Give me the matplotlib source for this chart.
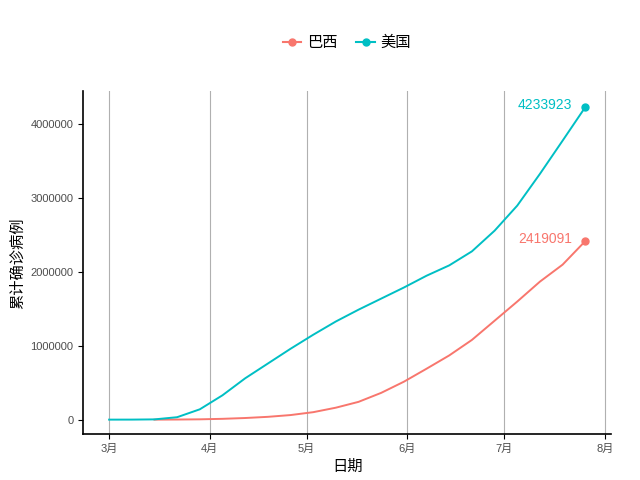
import matplotlib
matplotlib.use("Agg")
import matplotlib.pyplot as plt
import pandas as pd

plt.rcParams['font.family'] = ['Liberation Sans', 'Noto Sans CJK SC', 'DejaVu Sans']

us_dates = ["2020-03-01","2020-03-08","2020-03-15","2020-03-22","2020-03-29","2020-04-05","2020-04-12",
            "2020-04-19","2020-04-26","2020-05-03","2020-05-10","2020-05-17","2020-05-24","2020-05-31",
            "2020-06-07","2020-06-14","2020-06-21","2020-06-28","2020-07-05","2020-07-12","2020-07-19","2020-07-26"]
us_vals = [30, 500, 3500, 33000, 140000, 330000, 560000, 760000, 960000, 1150000, 1330000, 1490000,
           1640000, 1790000, 1950000, 2090000, 2280000, 2560000, 2900000, 3330000, 3780000, 4233923]
br_dates = ["2020-03-15","2020-03-22","2020-03-29","2020-04-05","2020-04-12","2020-04-19","2020-04-26",
            "2020-05-03","2020-05-10","2020-05-17","2020-05-24","2020-05-31","2020-06-07","2020-06-14",
            "2020-06-21","2020-06-28","2020-07-05","2020-07-12","2020-07-19","2020-07-26"]
br_vals = [200, 1500, 4300, 11000, 22000, 38000, 62000, 101000, 162000, 241000, 363000, 514000,
           690000, 870000, 1080000, 1340000, 1600000, 1870000, 2100000, 2419091]

c_br, c_us = "#F8766D", "#00BFC4"
fig, ax = plt.subplots(figsize=(6.4, 4.8), dpi=100)
fig.subplots_adjust(left=0.13, right=0.955, top=0.81, bottom=0.095)
ud = pd.to_datetime(us_dates); bd = pd.to_datetime(br_dates)
ax.plot(bd, br_vals, color=c_br, lw=1.4)
ax.plot(ud, us_vals, color=c_us, lw=1.4)
ax.plot(bd[-1:], br_vals[-1:], 'o', color=c_br, ms=5)
ax.plot(ud[-1:], us_vals[-1:], 'o', color=c_us, ms=5)
ax.text(bd[-1] - pd.Timedelta(days=4), br_vals[-1] + 30000, str(br_vals[-1]), color=c_br, ha='right', va='center', fontsize=10)
ax.text(ud[-1] - pd.Timedelta(days=4), us_vals[-1] + 30000, str(us_vals[-1]), color=c_us, ha='right', va='center', fontsize=10)
ax.plot([], [], '-o', color=c_br, label='巴西', ms=5)
ax.plot([], [], '-o', color=c_us, label='美国', ms=5)
ax.legend(loc='lower center', bbox_to_anchor=(0.5, 1.08), ncol=2, frameon=False, fontsize=11,
          handlelength=1.2, columnspacing=1.2, handletextpad=0.4)
ticks = pd.to_datetime(["2020-03-01","2020-04-01","2020-05-01","2020-06-01","2020-07-01","2020-08-01"])
ax.set_xticks(ticks)
ax.set_xticklabels(["3月","4月","5月","6月","7月","8月"])
ax.set_xlim(pd.Timestamp("2020-02-22"), pd.Timestamp("2020-08-03"))
ax.set_yticks([0,1000000,2000000,3000000,4000000])
ax.set_yticklabels(["0","1000000","2000000","3000000","4000000"])
ax.set_ylim(-200000, 4450000)
ax.grid(axis='x', color='#b0b0b0', lw=0.8)
ax.set_axisbelow(True)
for s in ['top','right']: ax.spines[s].set_visible(False)
for s in ['left','bottom']: ax.spines[s].set_linewidth(1.2)
ax.tick_params(labelsize=8, colors='black', labelcolor='#4d4d4d')
ax.set_xlabel('日期', fontsize=11)
ax.set_ylabel('累计确诊病例', fontsize=11)
fig.savefig('out.png', dpi=100)
